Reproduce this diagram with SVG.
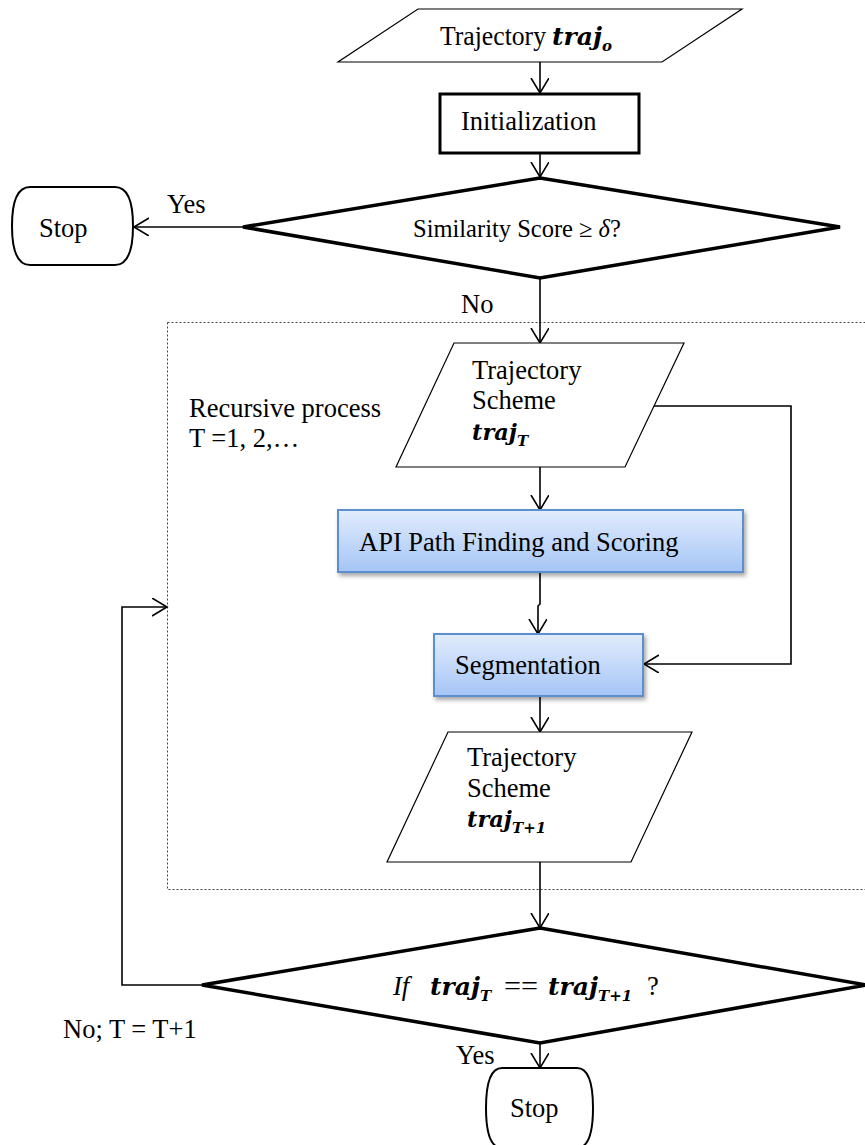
<svg xmlns="http://www.w3.org/2000/svg" width="865" height="1145" viewBox="0 0 865 1145">
<style>
text{font-family:"Liberation Serif","Times New Roman",serif;font-size:26.5px;fill:#000}
.m{font-family:"DejaVu Serif","Liberation Serif",serif;font-weight:bold;font-style:italic;font-size:25px}
.mp{font-family:"DejaVu Serif","Liberation Serif",serif;font-weight:bold;font-style:italic;font-size:22.5px}
.sub{font-size:15px}
.thin{fill:#fff;stroke:#000;stroke-width:1.2}
.dia{fill:#fff;stroke:#000;stroke-width:3.5;stroke-linejoin:miter}
.stop{fill:#fff;stroke:#000;stroke-width:2}
.blue{fill:url(#bg);stroke:#5b8fd0;stroke-width:2;filter:url(#sh)}
.c{fill:none;stroke:#000;stroke-width:1.6;marker-end:url(#ah)}
</style>
<defs>
<linearGradient id="bg" x1="0" y1="0" x2="0" y2="1">
<stop offset="0" stop-color="#e2ecfd"/>
<stop offset="1" stop-color="#a5c5f5"/>
</linearGradient>
<filter id="sh" x="-10%" y="-20%" width="120%" height="150%">
<feDropShadow dx="2" dy="3" stdDeviation="2" flood-color="#000" flood-opacity="0.35"/>
</filter>
<marker id="ah" markerWidth="20" markerHeight="20" refX="15" refY="9" orient="auto" markerUnits="userSpaceOnUse">
<path d="M0,0 L15,9 L0,18" fill="none" stroke="#000" stroke-width="1.6"/>
</marker>
</defs>

<g id="recursive-frame">
<rect x="167.5" y="322.5" width="710" height="567" fill="none" stroke="#444" stroke-width="1" stroke-dasharray="2,2"/>
<text x="189" y="417">Recursive process</text>
<text x="189" y="447">T =1, 2,…</text>
</g>

<g id="connectors">
<path class="c" d="M540,62 V93"/>
<path class="c" d="M540,153 V177"/>
<path class="c" d="M243,227 H134"/>
<path class="c" d="M540,278 V343"/>
<path class="c" d="M540,467 V510"/>
<path class="c" d="M540,573 V604 L538,606 V634"/>
<path class="c" d="M654,406 H791 V664 H644"/>
<path class="c" d="M540,697 V732"/>
<path class="c" d="M540,862 V928"/>
<path class="c" d="M202,985 H122 V607 H167"/>
<path class="c" d="M540,1043 V1068"/>
<text x="167" y="213">Yes</text>
<text x="461" y="313">No</text>
<text x="63" y="1038">No; T = T+1</text>
<text x="456" y="1064">Yes</text>
</g>

<g id="input">
<polygon class="thin" points="418,9 742,9 662,62 338,62"/>
<text x="440" y="45" textLength="106" lengthAdjust="spacingAndGlyphs">Trajectory</text>
<text class="m" x="552" y="45">traj<tspan class="sub" dy="6">o</tspan></text>
</g>

<g id="init">
<rect x="440" y="94" width="199" height="59" fill="#fff" stroke="#000" stroke-width="3"/>
<text x="461" y="130">Initialization</text>
</g>

<g id="decision1">
<polygon class="dia" points="540,178 840,227 540,278 243,227"/>
<text x="413" y="237" style="font-size:24.5px">Similarity Score ≥ <tspan font-style="italic">δ</tspan>?</text>
</g>

<g id="stop1">
<path class="stop" d="M30,187 H115 Q133,187 133,226 Q133,265 115,265 H30 Q12,265 12,226 Q12,187 30,187 Z"/>
<text x="39" y="237">Stop</text>
</g>

<g id="traj-T">
<polygon class="thin" points="454,343 684,343 625,467 396,467"/>
<text x="472" y="379">Trajectory</text>
<text x="472" y="409">Scheme</text>
<text class="mp" x="472" y="440">traj<tspan class="sub" dy="6">T</tspan></text>
</g>

<g id="api">
<rect class="blue" x="338" y="510" width="405" height="62"/>
<text x="359" y="551">API Path Finding and Scoring</text>
</g>

<g id="segmentation">
<rect class="blue" x="434" y="634" width="209" height="62"/>
<text x="455" y="674">Segmentation</text>
</g>

<g id="traj-T1">
<polygon class="thin" points="448,732 692,732 631,862 387,862"/>
<text x="467" y="766">Trajectory</text>
<text x="467" y="797">Scheme</text>
<text class="mp" x="467" y="827">traj<tspan class="sub" dy="6">T+1</tspan></text>
</g>

<g id="decision2">
<polygon class="dia" points="540,928 866,985 540,1043 202,985"/>
<text x="393" y="995" font-style="italic">If</text>
<text class="m" x="430" y="995">traj<tspan class="sub" dy="6">T</tspan></text>
<text x="504" y="995" textLength="34" lengthAdjust="spacingAndGlyphs">==</text>
<text class="m" x="548" y="995">traj<tspan class="sub" dy="6">T+1</tspan></text>
<text x="647" y="995">?</text>
</g>

<g id="stop2">
<path class="stop" d="M502,1068 H577 Q593,1068 593,1108 Q593,1148 577,1148 H502 Q486,1148 486,1108 Q486,1068 502,1068 Z"/>
<text x="510" y="1117">Stop</text>
</g>
</svg>
